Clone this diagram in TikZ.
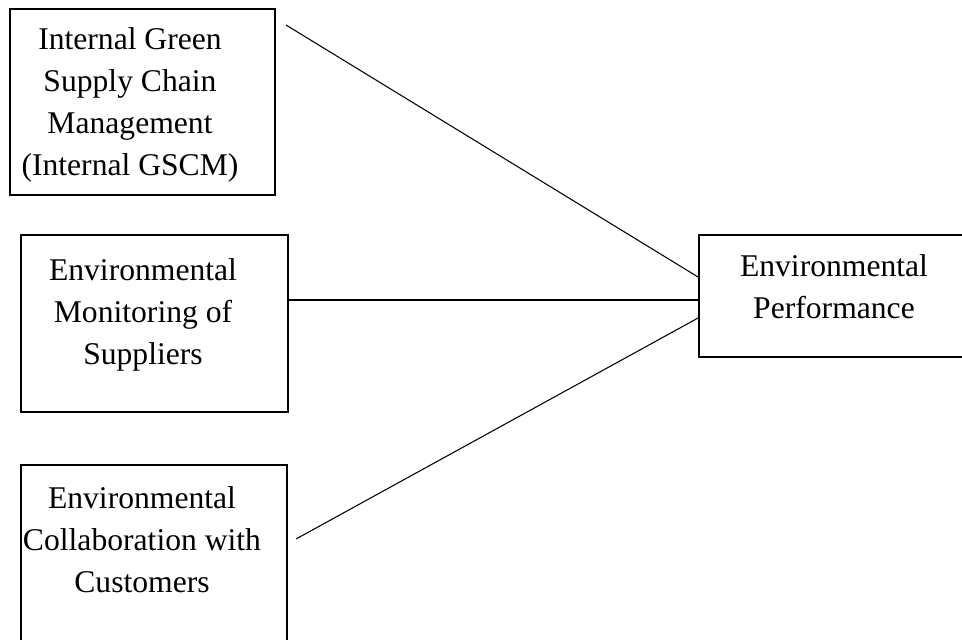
\documentclass[tikz,border=0pt]{standalone}
\usepackage{fontspec}
\setmainfont{Liberation Serif}
\usetikzlibrary{positioning, calc}

\begin{document}
\begin{tikzpicture}[x=0.02cm, y=-0.02cm,
        box/.style={draw, line width=1.1pt, inner sep=0pt},
        lbl/.style={font=\fontsize{18}{24}\selectfont, align=center, inner sep=0pt},
        link/.style={line width=0.6pt}]
        \useasboundingbox (0,0) rectangle (962,639);
        \clip (0,0) rectangle (962,639);

        % Boxes
        \node[box, minimum width=5.3cm, minimum height=3.72cm] (igscm) at (142.5,102) {};
        \node[box, minimum width=5.34cm, minimum height=3.54cm] (monitor) at (154.5,323.5) {};
        \node[box, minimum width=5.32cm, minimum height=4.3cm] (collab) at (154,572.5) {};
        \node[box, minimum width=6.02cm, minimum height=2.44cm] (perf) at (849.5,296) {};

        % Labels
        \node[lbl] (igscm-t) at (130,105) {Internal Green\\Supply Chain\\Management\\(Internal GSCM)};
        \node[lbl] (monitor-t) at (143,315) {Environmental\\Monitoring of\\Suppliers};
        \node[lbl] (collab-t) at (142,540) {Environmental\\Collaboration with\\Customers};
        \node[lbl] (perf-t) at (834,287) {Environmental\\Performance};

        % Links
        \coordinate (s1) at (286,25);
        \coordinate (s3) at (296,539);
        \draw[link] (s1) -- ($(perf.west)+(0,-19)$);
        \draw[link] ($(monitor.east)+(0,-23.5)$) coordinate (s2) -- (s2 -| perf.west);
        \draw[link] (s3) -- ($(perf.west)+(0,22)$);

    \end{tikzpicture}
\end{document}
